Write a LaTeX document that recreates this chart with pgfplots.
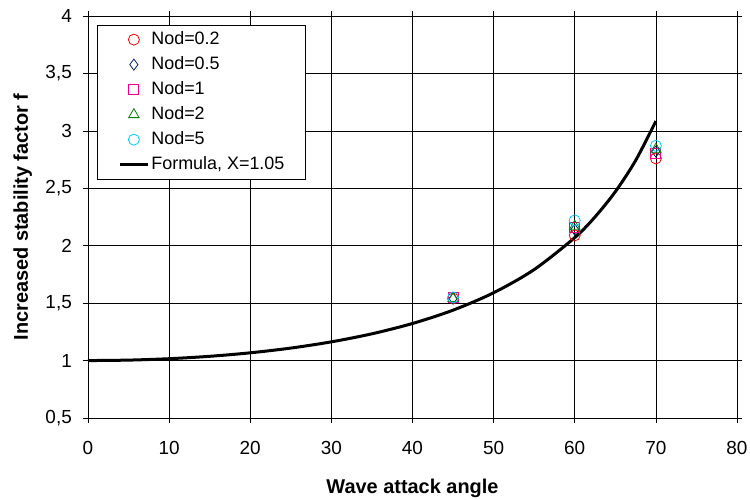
\documentclass[border=0pt]{standalone}
\usepackage{pgfplots}
\pgfplotsset{compat=1.18}
\usepackage{fontspec}
\setmainfont{Liberation Sans}
\definecolor{navyd}{RGB}{0,32,96}
\definecolor{cyanm}{RGB}{0,204,255}
\definecolor{greenm}{RGB}{0,128,0}
\pgfplotsset{
  markleg/.style={legend image code/.code={\path (-21bp,0bp) (28bp,0bp); \draw[##1] plot coordinates {(14bp,0bp)};}},
  lineleg/.style={legend image code/.code={\path (-21bp,0bp); \draw[##1] (0bp,0bp) -- (28bp,0bp);}},
}
\begin{document}
\begin{tikzpicture}[x=1bp,y=1bp]
\useasboundingbox (-88bp,-82bp) rectangle (662bp,418bp);
\begin{axis}[
  at={(0,0)}, anchor=south west,
  scale only axis, width=649bp, height=402bp,
  xmin=0, xmax=80, ymin=0.5, ymax=4,
  xtick={0,10,...,80}, ytick={0.5,1,...,4},
  grid=major, major grid style={black, line width=0.6pt},
  axis line style={black, line width=0.6pt},
  tick align=outside, major tick length=5bp,
  tick style={black, line width=0.6pt},
  tick label style={font=\fontsize{19}{22}\selectfont},
  /pgf/number format/assume math mode=true,
  /pgf/number format/use comma,
  yticklabel style={/pgf/number format/fixed, anchor=east, inner sep=0pt, xshift=-11bp},
  xticklabel style={anchor=base, inner sep=0pt, yshift=-31bp},
  xlabel={\textbf{Wave attack angle}},
  ylabel={\textbf{Increased stability factor f}},
  label style={font=\fontsize{20}{24}\selectfont},
  xlabel style={at={(axis description cs:0.5,0)}, anchor=base, inner sep=0pt, yshift=-75bp},
  ylabel style={at={(axis description cs:0,0.5)}, anchor=base, inner sep=0pt, yshift=60bp},
  legend style={at={(axis description cs:0.014,0.978)}, anchor=north west,
    draw=black, fill=white, line width=0.6pt,
    font=\fontsize{18}{21}\selectfont, row sep=0bp,
    nodes={text height=14bp, text depth=5bp, inner ysep=3bp},
    inner xsep=0bp, inner ysep=2bp},
  legend cell align=left,
  every axis plot/.append style={line width=0.8pt},
]
\addplot[red, only marks, mark=o, mark size=5.5bp, markleg]
  coordinates {(45,1.54) (60,2.09) (70,2.76)};
\addlegendentry{Nod=0.2}
\addplot[navyd, only marks, mark=diamond, mark size=5.5bp, markleg]
  coordinates {(45,1.54) (60,2.14) (70,2.82)};
\addlegendentry{Nod=0.5}
\addplot[magenta, only marks, mark=square, mark size=5bp, markleg]
  coordinates {(45,1.55) (60,2.16) (70,2.80)};
\addlegendentry{Nod=1}
\addplot[greenm, only marks, mark=triangle, mark size=6bp, markleg]
  coordinates {(45,1.54) (60,2.17) (70,2.84)};
\addlegendentry{Nod=2}
\addplot[cyanm, only marks, mark=o, mark size=5.5bp, markleg]
  coordinates {(45,1.55) (60,2.22) (70,2.87)};
\addlegendentry{Nod=5}
\addplot[black, line width=3bp, smooth, no marks, lineleg]
  coordinates {(0,1) (5,1.0040) (10,1.0162) (15,1.0371) (20,1.0675) (25,1.1088)
   (30,1.1630) (35,1.2330) (40,1.3229) (45,1.4389) (50,1.5905) (55,1.7925)
   (60,2.0705) (62.5,2.2509) (65,2.4703) (67.5,2.7416) (70,3.0850)};
\addlegendentry{\makebox[152bp][l]{Formula, X=1.05}}
\end{axis}
\end{tikzpicture}
\end{document}
